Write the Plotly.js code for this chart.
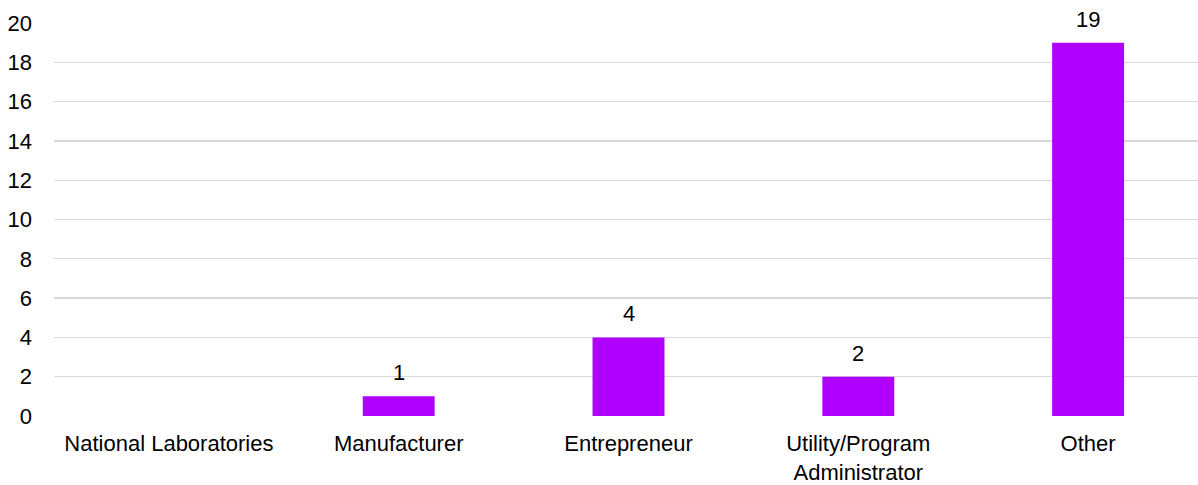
<!DOCTYPE html>
<html>
<head>
<meta charset="utf-8">
<script src="https://cdn.plot.ly/plotly-3.0.1.min.js"></script>
<style>
html,body{margin:0;padding:0;background:#fff;overflow:hidden;}
#chart{width:1203px;height:485px;}
</style>
</head>
<body>
<div id="chart"></div>
<script>
var categories = ["National Laboratories", "Manufacturer", "Entrepreneur", "Utility/Program<br>Administrator", "Other"];
var values = [0, 1, 4, 2, 19];
var tickValsY = [0, 2, 4, 6, 8, 10, 12, 14, 16, 18, 20];

var FONT = 'Liberation Sans, Arial, sans-serif';

var trace = {
  type: 'bar',
  x: categories,
  y: values,
  marker: {color: '#B000FF'},
  hoverinfo: 'none'
};

var annotations = [];
categories.forEach(function(c, i){
  if (values[i] > 0) {
    annotations.push({
      x: c, y: values[i], xref: 'x', yref: 'y',
      text: String(values[i]),
      showarrow: false,
      yanchor: 'bottom',
      yshift: 9,
      font: {family: FONT, size: 22, color: '#000'}
    });
  }
});

var layout = {
  width: 1203,
  height: 485,
  margin: {l: 54, r: 0, t: 23, b: 69},
  paper_bgcolor: '#fff',
  plot_bgcolor: '#fff',
  bargap: 0.687,
  showlegend: false,
  annotations: annotations,
  font: {family: FONT, size: 22, color: '#000'},
  xaxis: {
    showgrid: false,
    zeroline: false,
    showline: false,
    ticks: '',
    ticklabelstandoff: 12,
    tickfont: {size: 22, color: '#000'}
  },
  yaxis: {
    range: [0, 20],
    tickvals: tickValsY,
    showgrid: true,
    gridcolor: '#d9d9d9',
    gridwidth: 1.3,
    zeroline: false,
    showline: false,
    ticks: '',
    ticklabelstandoff: 21,
    tickfont: {size: 22, color: '#000'}
  }
};

Plotly.newPlot('chart', [trace], layout, {displayModeBar: false, staticPlot: true});
</script>
</body>
</html>
